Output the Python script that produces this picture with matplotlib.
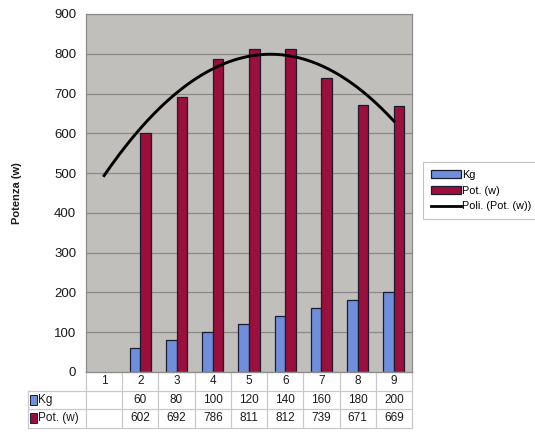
import numpy as np
import matplotlib

matplotlib.use("Agg")
import matplotlib.pyplot as plt
from matplotlib.patches import Rectangle
from matplotlib.lines import Line2D

plt.rcParams["font.family"] = ["Liberation Sans", "DejaVu Sans"]

categories = [1, 2, 3, 4, 5, 6, 7, 8, 9]
kg = [None, 60, 80, 100, 120, 140, 160, 180, 200]
pot = [None, 602, 692, 786, 811, 812, 739, 671, 669]

BLUE = "#6f8fdc"
RED = "#9a0f3c"
EDGE = "#1c1c30"
GRID = "#8a8a86"
TABLE = "#c9c9c9"
INK = "#1a1a1a"

fig = plt.figure(figsize=(5.35, 4.32), dpi=100)
ax = fig.add_axes([86 / 535, 1 - 372 / 432, 326 / 535, 358 / 432])
ax.set_facecolor("#c0bfbb")

x = np.arange(len(categories))
w = 0.29
for i in x:
    if kg[i] is not None:
        ax.bar(i - w / 2, kg[i], w, color=BLUE, edgecolor=EDGE, lw=0.9, zorder=2)
    if pot[i] is not None:
        ax.bar(i + w / 2, pot[i], w, color=RED, edgecolor=EDGE, lw=0.9, zorder=2)

# 2nd order polynomial trendline over the Pot. points
xs = np.array([i for i in x if pot[i] is not None], dtype=float)
ys = np.array([pot[i] for i in x if pot[i] is not None], dtype=float)
coef = np.polyfit(xs + 1, ys, 2)
xt = np.linspace(1, 9, 200)
ax.plot(xt - 1, np.polyval(coef, xt), color="black", lw=2.1, zorder=3)

ax.set_xlim(-0.5, 8.5)
ax.set_ylim(0, 900)
ax.set_yticks(range(0, 901, 100))
ax.tick_params(axis="y", length=0, labelsize=9.5, pad=7, labelcolor=INK)
ax.set_xticks([])
ax.grid(axis="y", color=GRID, lw=0.9, zorder=1)
for s in ax.spines.values():
    s.set_color("#8c8c8c")
    s.set_linewidth(0.9)
ax.set_ylabel("Potenza (w)", fontsize=8, fontweight="bold", color=INK)
ax.yaxis.set_label_coords(-0.195, 0.5)

# data table below the plot area
rh = 18.5 / 358
trans = ax.get_xaxis_transform()
lab_x = -0.5 - 58 / 326 * 9
rows = [("", None), ("Kg", kg), ("Pot. (w)", pot)]
for r in range(4):
    y = -r * rh
    x0 = -0.5 if r == 0 else lab_x
    ax.add_line(Line2D([x0, 8.5], [y, y], transform=trans, color=TABLE,
                       lw=0.9, clip_on=False))
for c in range(10):
    ax.add_line(Line2D([c - 0.5, c - 0.5], [0, -3 * rh], transform=trans,
                       color=TABLE, lw=0.9, clip_on=False))
ax.add_line(Line2D([lab_x, lab_x], [-rh, -3 * rh], transform=trans,
                   color=TABLE, lw=0.9, clip_on=False))
for c in x:
    ax.text(c, -0.5 * rh, str(categories[c]), transform=trans, ha="center",
            va="center", fontsize=8.5, color=INK)
for r, (name, vals) in enumerate(rows[1:], start=1):
    yc = -(r + 0.5) * rh
    color = BLUE if r == 1 else RED
    ax.add_patch(Rectangle((lab_x + 0.05, yc - 0.014), 0.2, 0.028,
                           transform=trans, facecolor=color, edgecolor=EDGE,
                           lw=0.7, clip_on=False))
    ax.text(lab_x + 0.28, yc, name, transform=trans, ha="left", va="center",
            fontsize=8.5, color=INK)
    for c in x:
        if vals[c] is not None:
            ax.text(c, yc, str(vals[c]), transform=trans, ha="center",
                    va="center", fontsize=8.5, color=INK)

handles = [Rectangle((0, 0), 1, 1, facecolor=BLUE, edgecolor=EDGE, lw=0.9),
           Rectangle((0, 0), 1, 1, facecolor=RED, edgecolor=EDGE, lw=0.9),
           Line2D([], [], color="black", lw=2.0)]
leg = fig.legend(handles, ["Kg", "Pot. (w)", "Poli. (Pot. (w))"],
                 loc="upper left", bbox_to_anchor=(423 / 535, 1 - 162 / 432),
                 fontsize=7.8, frameon=True, fancybox=False,
                 handlelength=2.8, handleheight=0.8, handletextpad=0.1,
                 labelspacing=0.55, borderpad=0.7, borderaxespad=0)
leg.get_frame().set_edgecolor("#b5b5b5")
leg.get_frame().set_linewidth(0.8)

fig.savefig("out.png", dpi=100)
